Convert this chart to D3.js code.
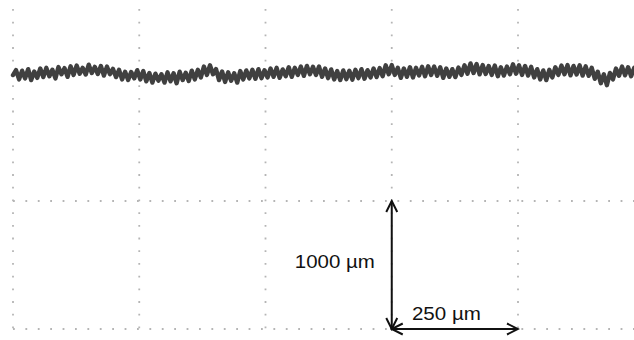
<!DOCTYPE html>
<html>
<head>
<meta charset="utf-8">
<script src="https://cdn.jsdelivr.net/npm/d3@7"></script>
<style>
  html, body { margin: 0; padding: 0; background: #fff; }
  svg { display: block; }
</style>
</head>
<body>
<svg id="chart" width="634" height="340"></svg>
<script>
// ---- data (µm) ----
const traceStep = 6; // µm between samples
const traceValues = [
  1984, 2022, 1950, 2018, 1958, 2030, 1945, 2012, 1962, 2035,
  1968, 2040, 1975, 2025, 1958, 2046, 1990, 2038, 1970, 2052,
  1985, 2058, 1995, 2040, 1988, 2065, 2000, 2048, 1992, 2055,
  1980, 2050, 1990, 2032, 1968, 2025, 1950, 2010, 1945, 2008,
  1958, 2022, 1950, 2015, 1935, 2000, 1925, 1995, 1940, 1990,
  1925, 2005, 1935, 1998, 1920, 2010, 1945, 2002, 1938, 2018,
  1950, 2025, 1965, 2050, 1985, 2060, 1990, 2030, 1945, 2012,
  1930, 2005, 1940, 1998, 1925, 2015, 1950, 2020, 1958, 2025,
  1955, 2030, 1960, 2022, 1965, 2035, 1970, 2040, 1962, 2028,
  1975, 2045, 1970, 2040, 1985, 2050, 1978, 2055, 1990, 2048,
  1985, 2050, 1970, 2035, 1960, 2028, 1950, 2015, 1945, 2020,
  1952, 2018, 1948, 2025, 1960, 2030, 1955, 2022, 1965, 2035,
  1968, 2038, 1975, 2060, 1990, 2062, 1985, 2040, 1962, 2035,
  1970, 2045, 1965, 2040, 1980, 2048, 1975, 2052, 1985, 2050,
  1978, 2045, 1962, 2035, 1970, 2030, 1968, 2042, 1985, 2060,
  1995, 2075, 2000, 2070, 1990, 2062, 1992, 2055, 1985, 2058,
  1975, 2045, 1980, 2050, 1990, 2068, 1995, 2060, 1985, 2055,
  1980, 2048, 1965, 2030, 1950, 2020, 1945, 2025, 1965, 2045,
  1985, 2058, 1990, 2062, 1982, 2055, 1988, 2060, 1980, 2052,
  1978, 2040, 1955, 2010, 1920, 1990, 1905, 2000, 1950, 2035,
  1978, 2050, 1982, 2045, 1975, 2040
];
const gridX = [0, 250, 500, 750, 1000];      // vertical dotted lines (µm)
const gridY = [0, 1000];                      // horizontal dotted lines (µm)
const gridXExtent = [-40, 2500];              // vertical span of vertical lines
const gridYExtent = [0, 1230];                // horizontal span of horizontal lines
const scaleBars = [
  { x1: 750, y1: 0, x2: 750, y2: 1000 },
  { x1: 750, y1: 0, x2: 1000, y2: 0 }
];
const scaleLabels = [
  { text: "1000 µm", x: 558, y: 480 },
  { text: "250 µm", x: 790, y: 67 }
];

// ---- scales ----
const x = d3.scaleLinear().domain([0, 1000]).range([13, 518]);
const y = d3.scaleLinear().domain([0, 1000]).range([329, 201]);

const svg = d3.select("#chart");

// markers
const defs = svg.append("defs");
defs.append("marker")
  .attr("id", "chev")
  .attr("markerUnits", "userSpaceOnUse")
  .attr("viewBox", "-14 -8 16 16")
  .attr("refX", 0).attr("refY", 0)
  .attr("markerWidth", 16).attr("markerHeight", 16)
  .attr("orient", "auto-start-reverse")
  .append("path")
  .attr("d", "M-11,-5.5 L0,0 L-11,5.5")
  .attr("fill", "none")
  .attr("stroke", "#111")
  .attr("stroke-width", 2)
  .attr("stroke-linejoin", "miter");

// grid
const grid = svg.append("g");
grid.selectAll("line.v").data(gridX).enter().append("line")
  .attr("class", "v")
  .attr("x1", d => x(d)).attr("x2", d => x(d))
  .attr("y1", y(gridXExtent[1])).attr("y2", y(gridXExtent[0]))
  .attr("stroke", "#b5b5b5").attr("stroke-width", 1.8)
  .attr("stroke-dasharray", "1.8,10.9");
grid.selectAll("line.h").data(gridY).enter().append("line")
  .attr("class", "h")
  .attr("y1", d => y(d)).attr("y2", d => y(d))
  .attr("x1", x(gridYExtent[0])).attr("x2", x(gridYExtent[1]))
  .attr("stroke", "#b5b5b5").attr("stroke-width", 1.8)
  .attr("stroke-dasharray", "1.8,10.6");

// trace
const line = d3.line()
  .x((d, i) => x(i * traceStep))
  .y(d => y(d));
svg.append("path")
  .datum(traceValues)
  .attr("d", line)
  .attr("fill", "none")
  .attr("stroke", "#404040")
  .attr("stroke-width", 4.4)
  .attr("stroke-linejoin", "round")
  .attr("stroke-linecap", "round");

// scale bars
svg.selectAll("line.bar").data(scaleBars).enter().append("line")
  .attr("class", "bar")
  .attr("x1", d => x(d.x1)).attr("y1", d => y(d.y1))
  .attr("x2", d => x(d.x2)).attr("y2", d => y(d.y2))
  .attr("stroke", "#111").attr("stroke-width", 2)
  .attr("marker-start", "url(#chev)")
  .attr("marker-end", "url(#chev)");

svg.selectAll("text.lbl").data(scaleLabels).enter().append("text")
  .attr("class", "lbl")
  .attr("x", d => x(d.x)).attr("y", d => y(d.y))
  .attr("font-family", "Liberation Sans, Arial, sans-serif")
  .attr("font-size", 18.5)
  .attr("fill", "#111")
  .attr("textLength", d => d.text.length === 7 ? 80 : 69)
  .attr("lengthAdjust", "spacingAndGlyphs")
  .text(d => d.text);
</script>
</body>
</html>
